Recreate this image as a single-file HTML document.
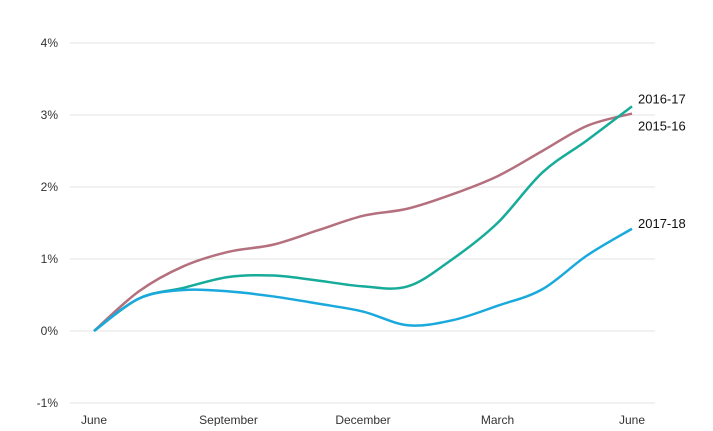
<!DOCTYPE html>
<html><head><meta charset="utf-8"><style>
body{margin:0;background:#fff;}
svg text{font-family:"Liberation Sans",sans-serif;font-size:12px;fill:#333;}
</style></head><body>
<svg width="713" height="426" viewBox="0 0 713 426" xmlns="http://www.w3.org/2000/svg">
<g id="grid"></g>
<g id="yt"></g>
<g id="xt"></g>
<g id="lines"></g>
</svg>
<script>
const yTicks=[4,3,2,1,0,-1];
const xLabels=["June","September","December","March","June"];
const xLabelIdx=[0,3,6,9,12];
const s1516=[0,0.55,0.9,1.1,1.2,1.4,1.6,1.7,1.9,2.15,2.5,2.85,3.02];
const s1617=[0,0.45,0.6,0.75,0.77,0.7,0.62,0.62,1.0,1.5,2.2,2.65,3.12];
const s1718=[0,0.45,0.57,0.55,0.48,0.38,0.27,0.08,0.15,0.35,0.58,1.05,1.42];
const seriesNames=["2015-16","2016-17","2017-18"];
const NS="http://www.w3.org/2000/svg";
const X=i=>94+i*(632-94)/12;
const Y=v=>331-v*72;
function mk(t,a,p){const e=document.createElementNS(NS,t);for(const k in a)e.setAttribute(k,a[k]);p.appendChild(e);return e;}
const grid=document.getElementById('grid'),yt=document.getElementById('yt'),xt=document.getElementById('xt'),lines=document.getElementById('lines');
yTicks.forEach(v=>{
 const l=mk('line',{x1:70,x2:655,y1:Y(v),y2:Y(v),stroke:'#e3e3e3','stroke-width':1},grid);
 
 
 const t=mk('text',{x:58,y:Y(v)+4,'text-anchor':'end'},yt);t.textContent=v+'%';
 
 
});
xLabels.forEach((s,k)=>{
 const t=mk('text',{x:X(xLabelIdx[k]),y:424,'text-anchor':'middle'},xt);t.textContent=s;
 
 
});
function path(d){
 const p=d.map((v,i)=>[X(i),Y(v)]);let s='M'+p[0][0]+','+p[0][1];
 for(let i=0;i<p.length-1;i++){const p0=p[Math.max(0,i-1)],p1=p[i],p2=p[i+1],p3=p[Math.min(p.length-1,i+2)];
  s+=' C'+(p1[0]+(p2[0]-p0[0])/6)+','+(p1[1]+(p2[1]-p0[1])/6)+' '+(p2[0]-(p3[0]-p1[0])/6)+','+(p2[1]-(p3[1]-p1[1])/6)+' '+p2[0]+','+p2[1];}
 return s;}
const data=[s1516,s1617,s1718],cols=['#b5707f','#17ab9a','#1aa9dc'],lblDy=[17,-3,-1];
data.forEach((d,k)=>{
 const e=mk('path',{d:path(d),fill:'none',stroke:cols[k],'stroke-width':2.5},lines);
 
 
 const t=mk('text',{x:638,y:Y(d[d.length-1])+lblDy[k],'font-size':13},lines);t.textContent=seriesNames[k];
 t.setAttribute('style','fill:#111;font-size:13px');
 
 
});
</script>
</body></html>
